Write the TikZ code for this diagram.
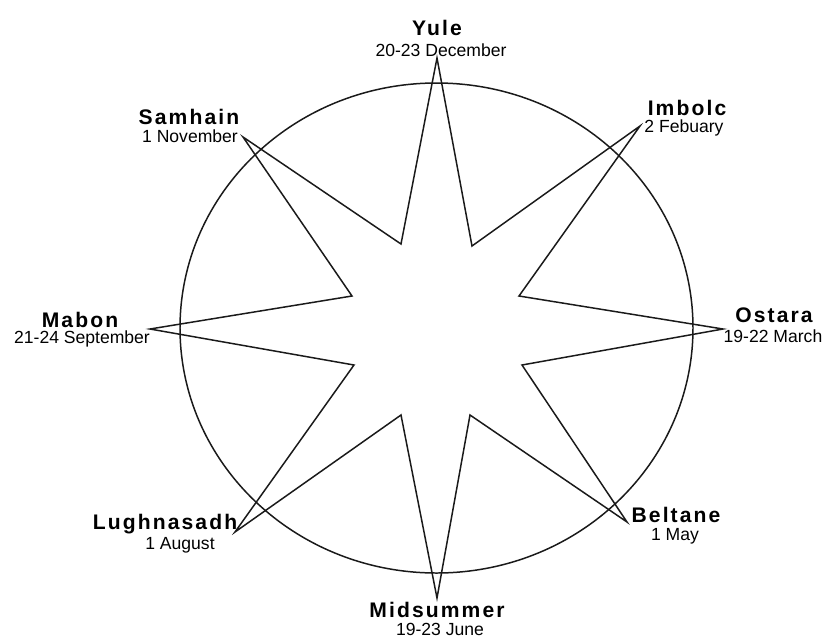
\documentclass[tikz,border=0pt]{standalone}
\usepackage{fontspec}
\setmainfont{Liberation Sans}
\newfontfamily\sabbatfont[LetterSpace=10]{Liberation Sans}
\usetikzlibrary{positioning}
\definecolor{wInk}{HTML}{1A1A1A}

\begin{document}
\begin{tikzpicture}[x=0.02cm, y=-0.02cm,
      wheel/.style={draw=wInk, line width=0.85pt},
      sabbat/.style={inner sep=0pt, font=\sabbatfont\bfseries\fontsize{12}{12}\selectfont},
      datum/.style={inner sep=0pt, font=\fontsize{10}{10}\selectfont}]
    \useasboundingbox (0,0) rectangle (826,637);
    % outer ring and eight-pointed star
    \draw[wheel] (436.5,328) ellipse [x radius=256.5, y radius=245];
    \draw[wheel, line join=miter] (437,58) -- (472,246) -- (640,126) -- (519,296)
      -- (723,329) -- (522,365) -- (627,522) -- (470,415)
      -- (437,598) -- (401,415) -- (235,532) -- (354,365)
      -- (150,329) -- (352,296) -- (243,137) -- (401,244) -- cycle;
    % labels at the tips
    \foreach \id/\tx/\ty/\dx/\dy/\nm/\dt in {
        yule/437/28/441/50/Yule/20-23 December,
        imbolc/687/108/684/128/Imbolc/2 Febuary,
        ostara/774/315/773/336/Ostara/19-22 March,
        beltane/676/515/675/536/Beltane/1 May,
        midsummer/437/610/440/629/Midsummer/19-23 June,
        lughnasadh/165/524/180/545/Lughnasadh/1 August,
        mabon/80/320/82/339/Mabon/21-24 September,
        samhain/189/117/190/136/Samhain/1 November} {
      \node[sabbat] (\id) at (\tx,\ty) {\nm};
      \node[datum] (\id-date) at (\dx,\dy) {\dt};
    }
  \end{tikzpicture}
\end{document}
